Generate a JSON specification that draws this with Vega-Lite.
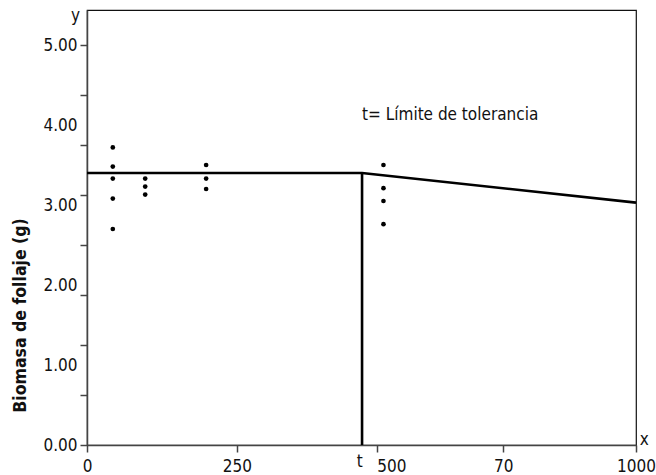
{
  "$schema": "https://vega.github.io/schema/vega-lite/v6.json",
  "width": 549,
  "height": 435,
  "autosize": {"type": "none"},
  "padding": {"left": 87, "top": 10, "right": 20, "bottom": 30},
  "background": "white",
  "config": {
    "font": "DejaVu Sans Condensed, sans-serif",
    "view": {"stroke": "#111", "strokeWidth": 1.2},
    "axis": {
      "grid": false,
      "domainColor": "#444",
      "tickColor": "#444",
      "labelColor": "#111",
      "labelFontSize": 17,
      "domainWidth": 1.5,
      "tickWidth": 1.5,
      "tickSize": 7
    }
  },
  "datasets": {
    "curve": [
      {"x": 0, "y": 3.40},
      {"x": 501, "y": 3.40},
      {"x": 1000, "y": 3.03}
    ],
    "limit": [
      {"x": 501, "y": 0, "y2": 3.40}
    ],
    "points": [
      {"x": 47, "y": 3.72},
      {"x": 47, "y": 3.48},
      {"x": 47, "y": 3.33},
      {"x": 47, "y": 3.08},
      {"x": 47, "y": 2.70},
      {"x": 106, "y": 3.33},
      {"x": 106, "y": 3.23},
      {"x": 106, "y": 3.13},
      {"x": 217, "y": 3.50},
      {"x": 217, "y": 3.33},
      {"x": 217, "y": 3.20},
      {"x": 540, "y": 3.50},
      {"x": 540, "y": 3.21},
      {"x": 540, "y": 3.05},
      {"x": 540, "y": 2.76}
    ],
    "annotation": [
      {"x": 501, "y": 4.125, "label": "t= Límite de tolerancia"}
    ],
    "letters": [
      {"x": 497, "y": -0.21, "label": "t"},
      {"x": 1015, "y": 0.06, "label": "x"},
      {"x": -21, "y": 5.36, "label": "y"}
    ]
  },
  "encoding": {
    "x": {
      "field": "x",
      "type": "quantitative",
      "scale": {"domain": [0, 1000], "nice": false, "zero": false},
      "axis": {
        "title": null,
        "values": [0, 273, 528, 758, 1000],
        "labelExpr": "datum.value == 0 ? '0' : datum.value < 300 ? '250' : datum.value < 600 ? '500' : datum.value < 900 ? '70' : '1000'",
        "labelAlign": {"condition": {"test": "datum.value == 528", "value": "left"}, "value": "center"},
        "labelFlush": false,
        "labelOverlap": false,
        "labelPadding": 6
      }
    },
    "y": {
      "field": "y",
      "type": "quantitative",
      "scale": {"domain": [0, 5.4375], "nice": false, "zero": false},
      "axis": {
        "title": "Biomasa de follaje (g)",
        "titleFontSize": 17.5,
        "titleFontWeight": "bold",
        "titleColor": "#111",
        "titleX": -67,
        "titleY": 305,
        "titleAlign": "center",
        "titleBaseline": "middle",
        "titleAngle": -90,
        "values": [0, 0.625, 1, 1.25, 1.875, 2, 2.5, 3, 3.125, 3.75, 4, 4.375, 5],
        "labelExpr": "datum.value % 1 == 0 ? format(datum.value, '.2f') : ''",
        "tickOpacity": {"condition": {"test": "datum.value % 1 == 0 && datum.value != 0 && datum.value != 5", "value": 0}, "value": 1},
        "labelOverlap": false,
        "labelFlush": false,
        "labelPadding": 3
      }
    }
  },
  "layer": [
    {
      "data": {"name": "curve"},
      "mark": {"type": "line", "color": "#000", "strokeWidth": 2.6}
    },
    {
      "data": {"name": "limit"},
      "mark": {"type": "rule", "color": "#000", "strokeWidth": 2.6},
      "encoding": {"y2": {"field": "y2"}}
    },
    {
      "data": {"name": "points"},
      "mark": {"type": "circle", "color": "#000", "opacity": 1, "size": 22}
    },
    {
      "data": {"name": "annotation"},
      "mark": {"type": "text", "align": "left", "baseline": "middle", "fontSize": 17, "color": "#111"},
      "encoding": {"text": {"field": "label"}}
    },
    {
      "data": {"name": "letters"},
      "mark": {"type": "text", "align": "center", "baseline": "middle", "fontSize": 17, "color": "#111"},
      "encoding": {"text": {"field": "label"}}
    }
  ]
}
